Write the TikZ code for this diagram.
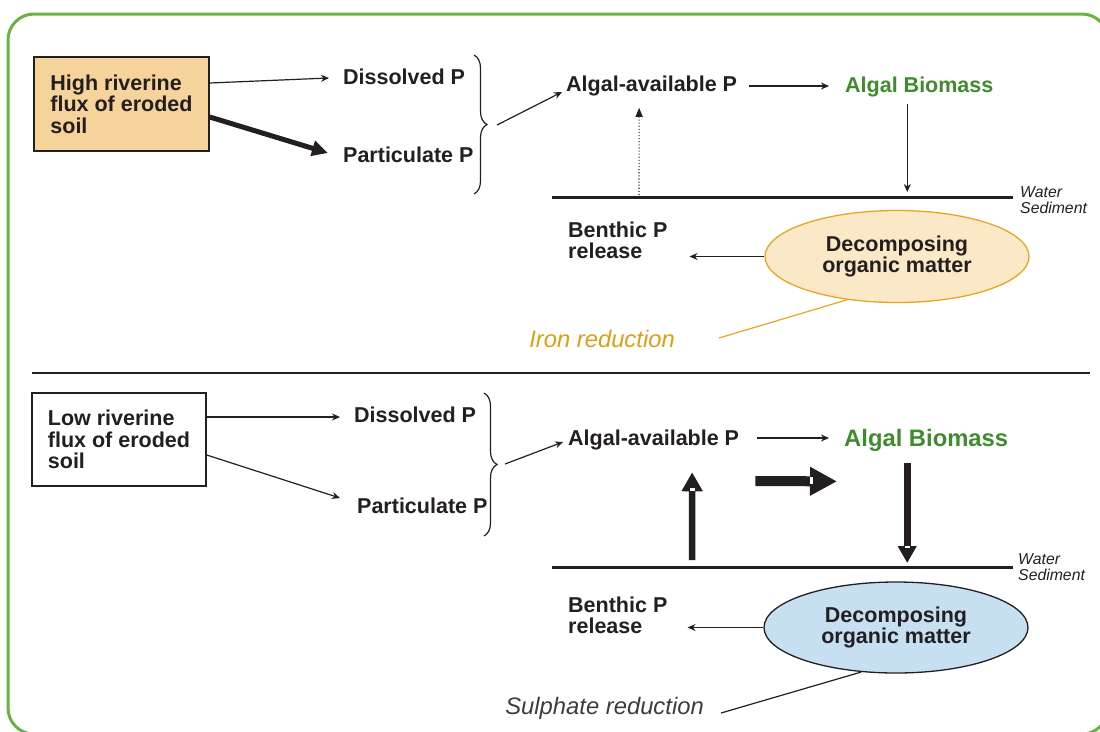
\documentclass[tikz,border=0pt]{standalone}
\usepackage{fontspec}
\setmainfont{Liberation Sans}
\usetikzlibrary{arrows.meta,calc,decorations.pathreplacing,shapes.geometric}
\definecolor{ink}{RGB}{35,31,32}
\definecolor{framegreen}{RGB}{106,178,66}
\definecolor{leaf}{RGB}{62,140,46}
\definecolor{tan}{RGB}{245,211,155}
\definecolor{tanlight}{RGB}{251,232,198}
\definecolor{amber}{RGB}{232,165,35}
\definecolor{gold}{RGB}{220,158,20}
\definecolor{skyfill}{RGB}{198,224,242}
\definecolor{slate}{RGB}{60,60,60}
\tikzset{
  lblfont/.style={font=\bfseries\fontsize{21.5}{21.5}\selectfont},
  lbl/.style={lblfont, text=ink, inner sep=0pt, anchor=base west, align=left},
  srcbox/.style={lblfont, text=ink, draw=ink, line width=1.5pt, minimum width=175pt, minimum height=94pt, inner sep=0pt, align=left},
  decomp/.style={ellipse, lblfont, text=ink, line width=1.3pt, minimum width=264pt, minimum height=92pt, inner sep=0pt, align=center},
  wlbl/.style={font=\itshape\fontsize{15.8}{16}\selectfont, text=ink, inner sep=0pt, anchor=base west},
  redlbl/.style={font=\itshape\fontsize{23.8}{24}\selectfont, inner sep=0pt, anchor=base east},
  thinarr/.style={draw=ink, line width=1.2pt, -{Stealth[length=8pt,width=7pt]}},
  thickarr/.style={draw=ink, line width=5pt, -{Triangle[length=16pt,width=15pt]}},
  dotarr/.style={draw=ink, line width=1.1pt, dotted, -{Triangle[length=9pt,width=7pt]}},
  bigarr/.style={draw=ink},
  waterline/.style={draw=ink, line width=3pt},
  bracestyle/.style={draw=ink, line width=1.2pt, decorate, decoration={brace, amplitude=13pt}},
  notch/.style={fill=white, draw=none}
}
\begin{document}
\begin{tikzpicture}[x=1pt,y=-1pt]
\useasboundingbox (0,0) rectangle (1100,731);
\clip (0,0) rectangle (1100,731);
\draw[framegreen, line width=3pt, rounded corners=26pt] (8,14) rectangle (1108,734);

% ---------------- top panel ----------------
\node[srcbox, fill=tan] (hi) at (121.5,104) {High riverine\\flux of eroded\\soil};
\node[lbl] (dis1) at (343,84) {Dissolved P};
\node[lbl] (par1) at (343,162) {Particulate P};
\draw[bracestyle] (474,55) -- (474,194);
\coordinate (br1) at (497,125);
\node[lbl] (alg1) at (566,91) {Algal-available P};
\node[lbl, text=leaf] (bio1) at (845,92) {Algal Biomass};

\draw[thinarr] (hi.east |- 0,83) -- ($(dis1.west |- 0,78)+(-14,0)$);
\draw[thickarr] (hi.east |- 0,117) -- ($(par1.west |- 0,153)+(-15,0)$);
\draw[thinarr] (br1) -- ($(alg1.west |- 0,92)+(-4,0)$);
\draw[thinarr] ($(alg1.east |- 0,86)+(12,0)$) -- ($(bio1.west |- 0,86)+(-16,0)$);

\coordinate (wl1a) at (552,197);
\coordinate (wl1b) at (1013,197);
\draw[waterline] (wl1a) -- (wl1b);
\node[wlbl] (w1) at (1020,197) {Water};
\node[wlbl] (s1) at (1020,213) {Sediment};

\draw[dotarr] ($(wl1a)+(87,-2)$) -- ($(alg1.south)+(-12.5,12)$);
\draw[thinarr] ($(bio1.south)+(-12,7)$) -- ($(bio1.south |- wl1a)+(-12,-5)$);

\node[decomp, fill=tanlight, draw=amber] (dec1) at (897,256.5) {Decomposing\\organic matter};
\node[lbl] (ben1) at (568,258.5) {Benthic P\\release};
\draw[thinarr] (dec1.west) -- ($(ben1.east |- dec1.west)+(22,0)$);

\node[redlbl, text=gold] (iron) at (675,347) {Iron reduction};
\draw[amber, line width=1.2pt] ($(iron.base east)+(44,-9)$) -- (dec1.221);

% ---------------- divider ----------------
\coordinate (d1) at (32,373);
\coordinate (d2) at (1090,373);
\draw[ink, line width=2pt] (d1) -- (d2);

% ---------------- bottom panel ----------------
\node[srcbox, fill=white, minimum width=174pt, minimum height=93pt] (lo) at (119,439.5) {Low riverine\\flux of eroded\\soil};
\node[lbl] (dis2) at (354,422) {Dissolved P};
\node[lbl] (par2) at (357,513) {Particulate P};
\draw[bracestyle] (484,393) -- (484,536);
\coordinate (br2) at (505,464);
\node[lbl] (alg2) at (568,445) {Algal-available P};
\node[lbl, text=leaf, font=\bfseries\fontsize{23.8}{24}\selectfont] (bio2) at (844,446) {Algal Biomass};

\draw[thinarr] (lo.east |- 0,417) -- ($(dis2.west |- 0,417)+(-14,0)$);
\draw[thinarr] (lo.east |- 0,455) -- ($(par2.west |- 0,498)+(-17,0)$);
\draw[thinarr] (br2) -- ($(alg2.west |- 0,442)+(-5,0)$);
\draw[thinarr] ($(alg2.east |- 0,438)+(18,0)$) -- ($(bio2.west |- 0,438)+(-15,0)$);

\coordinate (wl2a) at (552,567);
\coordinate (wl2b) at (1013,567);
\draw[waterline] (wl2a) -- (wl2b);
\node[wlbl] (w2) at (1018,564) {Water};
\node[wlbl] (s2) at (1018,580) {Sediment};

% block arrows
\draw[bigarr, line width=6.5pt, -{Triangle[length=19pt,width=20pt]}] ($(wl2a)+(140,-7)$) -- ($(alg2.south)+(38.5,22.5)$);
\draw[bigarr, line width=10pt, -{Triangle[length=27pt,width=27pt]}] ($(alg2.east)+(16,41.5)$) -- ($(bio2.west)+(-7,41.5)$);
\draw[bigarr, line width=7pt, -{Triangle[length=17pt,width=18pt]}] ($(bio2.south)+(-19,12)$) -- ($(bio2.south |- wl2a)+(-19,-4)$);
\fill[notch] (689.5,488) rectangle (694.5,491);
\fill[notch] (810,476.5) rectangle (813,483.5);
\fill[notch] (904.5,545.5) rectangle (909.5,548);

\node[decomp, fill=skyfill, draw=ink, minimum height=91pt] (dec2) at (896,627.5) {Decomposing\\organic matter};
\node[lbl] (ben2) at (568,633.5) {Benthic P\\release};
\draw[thinarr] (dec2.west) -- ($(ben2.east |- dec2.west)+(20,0)$);

\node[redlbl, text=slate] (sul) at (704,714) {Sulphate reduction};
\draw[ink, line width=1.2pt] ($(sul.base east)+(17,-1)$) -- (dec2.232);
\end{tikzpicture}
\end{document}
